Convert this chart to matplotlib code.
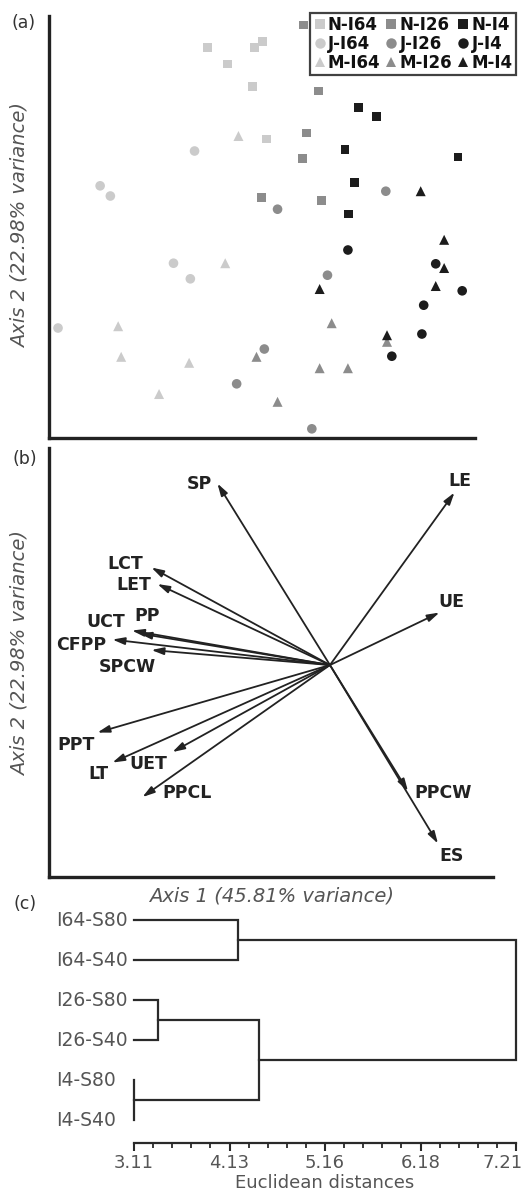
import matplotlib
matplotlib.use("Agg")
import matplotlib.pyplot as plt
from matplotlib.lines import Line2D
from matplotlib.transforms import blended_transform_factory, ScaledTranslation
import numpy as np

plt.rcParams['font.family'] = ['DejaVu Sans']

# ---------------- Panel (a): PCA scores ----------------
group_names = ["N-I64", "N-I26", "N-I4", "J-I64", "J-I26", "J-I4", "M-I64", "M-I26", "M-I4"]
axis1_scores = {
    "N-I64": [-0.87, -0.08, 0.05, -0.53, -0.12, 0.12],
    "N-I26": [0.73, 0.98, 0.78, 0.72, 0.03, 1.03],
    "N-I4":  [1.65, 1.95, 1.42, 3.30, 1.58, 1.48],
    "J-I64": [-1.08, -2.65, -2.48, -1.43, -1.15, -3.35],
    "J-I26": [2.10, 0.30, 1.13, 0.08, -0.38, 0.87],
    "J-I4":  [1.47, 2.93, 3.37, 2.73, 2.70, 2.20],
    "M-I64": [-0.35, -0.57, -2.35, -2.30, -1.17, -1.67],
    "M-I26": [1.20, 2.12, -0.05, 1.00, 1.47, 0.30],
    "M-I4":  [2.68, 3.07, 3.07, 1.00, 2.93, 2.12],
}
axis2_scores = {
    "N-I64": [3.37, 3.37, 3.47, 3.10, 2.72, 1.85],
    "N-I26": [3.75, 2.65, 1.95, 1.53, 0.87, 0.83],
    "N-I4":  [2.38, 2.22, 1.68, 1.55, 1.13, 0.60],
    "J-I64": [1.65, 1.07, 0.90, -0.22, -0.48, -1.30],
    "J-I26": [0.98, 0.68, -0.42, -1.65, -2.23, -2.98],
    "J-I4":  [0.00, -0.23, -0.68, -0.92, -1.40, -1.77],
    "M-I64": [1.90, -0.22, -1.27, -1.78, -1.88, -2.40],
    "M-I26": [-1.22, -1.53, -1.78, -1.97, -1.97, -2.53],
    "M-I4":  [0.98, 0.17, -0.30, -0.65, -0.60, -1.42],
}

# ---------------- Panel (b): loadings ----------------
var_names = ["SP", "LE", "LCT", "LET", "UE", "UCT", "PP", "CFPP", "SPCW",
             "PPT", "LT", "UET", "PPCL", "PPCW", "ES"]
load_axis1 = [-0.75, 0.83, -1.19, -1.15, 0.73, -1.32, -1.27, -1.45, -1.19,
              -1.55, -1.45, -1.05, -1.25, 0.52, 0.72]
load_axis2 = [1.21, 1.15, 0.65, 0.54, 0.35, 0.23, 0.21, 0.17, 0.10,
              -0.45, -0.65, -0.58, -0.88, -0.84, -1.19]

# ---------------- Panel (c): dendrogram ----------------
leaf_labels = ["I64-S80", "I64-S40", "I26-S80", "I26-S40", "I4-S80", "I4-S40"]
merge_pairs = [(0, 1), (2, 3), (4, 5), (7, 8), (6, 9)]   # index >= 6 refers to earlier merge
merge_heights = [4.23, 3.37, 3.11, 4.45, 7.21]
dist_ticks = [3.11, 4.135, 5.16, 6.185, 7.21]
dist_tick_labels = ["3.11", "4.13", "5.16", "6.18", "7.21"]

# ---------------- styling ----------------
W, H = 526, 1193
fig = plt.figure(figsize=(W / 100, H / 100), dpi=100)

def fbox(l, t, r, b):
    return [l / W, 1 - b / H, (r - l) / W, (b - t) / H]

spine_col = "#222222"
txt_grey = "#555555"
shade = {"64": "#cbcbcb", "26": "#8c8c8c", "I4": "#1c1c1c"}
marker_of = {"N": "s", "J": "o", "M": "^"}
size_of = {"s": 40, "o": 48, "^": 52}

def colour(g):
    if g.endswith("I64"):
        return shade["64"]
    if g.endswith("I26"):
        return shade["26"]
    return shade["I4"]

# ----- (a)
axa = fig.add_axes(fbox(49, 16, 475, 438))
order = ["N-I64", "J-I64", "M-I64", "N-I26", "J-I26", "M-I26", "N-I4", "J-I4", "M-I4"]
for g in order:
    m = marker_of[g[0]]
    axa.scatter(axis1_scores[g], axis2_scores[g], marker=m, s=size_of[m],
                color=colour(g), edgecolors="none", zorder=3)
axa.set_xlim(-3.5, 3.583)
axa.set_ylim(-3.133, 3.9)
for sp in ["top", "right"]:
    axa.spines[sp].set_visible(False)
for sp in ["left", "bottom"]:
    axa.spines[sp].set_linewidth(2.4)
    axa.spines[sp].set_color(spine_col)
axa.set_xticks([])
axa.set_yticks([])

handles, labels = [], []
for g in order:
    m = marker_of[g[0]]
    handles.append(Line2D([], [], linestyle="none", marker=m, markersize=7.5 if m != "s" else 7,
                          color=colour(g), markeredgewidth=0))
    labels.append(g)
leg = fig.legend(handles, labels, ncol=3, loc="upper right",
                 bbox_to_anchor=(516 / W, 1 - 13 / H), bbox_transform=fig.transFigure,
                 prop={"weight": "bold", "size": 12}, handlelength=0.7,
                 handletextpad=0.15, columnspacing=0.3, borderpad=0.2,
                 labelspacing=0.05, borderaxespad=0, fancybox=False, frameon=True)
leg.get_frame().set_edgecolor("#111111")
leg.get_frame().set_linewidth(1.6)
for t in leg.get_texts():
    t.set_color("#111111")

# ----- (b)
axb = fig.add_axes(fbox(49, 448, 493, 877))
axb.set_xlim(-1.873, 1.087)
axb.set_ylim(-1.413, 1.447)
label_offsets_px = {
    "SP": (-18, 0), "LE": (5, -12), "LCT": (-26, -4), "LET": (-24, 1),
    "UE": (12, -11), "UCT": (-26, -9), "PP": (8, -18), "CFPP": (-31, 5),
    "SPCW": (-24, 17), "PPT": (-21, 12), "LT": (-14, 11), "UET": (-24, 12),
    "PPCL": (45, -4), "PPCW": (35, 2), "ES": (14, 12),
}
for name, lx, ly in zip(var_names, load_axis1, load_axis2):
    axb.annotate("", xy=(lx, ly), xytext=(0, 0),
                 arrowprops=dict(arrowstyle="-|>,head_length=0.6,head_width=0.18",
                                 color=spine_col, lw=1.3, shrinkA=0, shrinkB=0,
                                 mutation_scale=12))
    dx, dy = label_offsets_px[name]
    axb.annotate(name, xy=(lx, ly), xytext=(dx, -dy), textcoords="offset pixels",
                 ha="center", va="center", fontsize=12.5, fontweight="bold",
                 color="#222222")
for sp in ["top", "right"]:
    axb.spines[sp].set_visible(False)
for sp in ["left", "bottom"]:
    axb.spines[sp].set_linewidth(2.4)
    axb.spines[sp].set_color(spine_col)
axb.set_xticks([])
axb.set_yticks([])

# axis labels
for yc in [225, 653]:
    fig.text(20 / W, 1 - yc / H, "Axis 2 (22.98% variance)", rotation=90,
             ha="center", va="center", fontsize=14, style="italic", color=txt_grey)
fig.text(272 / W, 1 - 896 / H, "Axis 1 (45.81% variance)", ha="center", va="center",
         fontsize=14, style="italic", color=txt_grey)

# panel letters
for lab, (xc, yc) in zip(["(a)", "(b)", "(c)"], [(24, 23), (25, 459), (25, 904)]):
    fig.text(xc / W, 1 - yc / H, lab, ha="center", va="center", fontsize=12.5,
             color="#333333")

# ----- (c)
axc = fig.add_axes(fbox(134, 910, 516, 1143))
axc.set_xlim(dist_ticks[0], dist_ticks[-1])
axc.set_ylim(5.575, -0.25)
n = len(leaf_labels)
node_x = {i: dist_ticks[0] for i in range(n)}
node_y = {i: float(i) for i in range(n)}
dcol = "#2a2a2a"
for k, ((a, b), h) in enumerate(zip(merge_pairs, merge_heights)):
    xa, ya = node_x[a], node_y[a]
    xb, yb = node_x[b], node_y[b]
    axc.plot([xa, h, h, xb], [ya, ya, yb, yb], color=dcol, lw=1.6, clip_on=False,
             solid_joinstyle="miter")
    node_x[n + k] = h
    node_y[n + k] = (ya + yb) / 2
tr = blended_transform_factory(fig.transFigure, axc.transData)
for i, lab in enumerate(leaf_labels):
    axc.text(56 / W, i, lab, transform=tr, ha="left", va="center",
             fontsize=13.5, color=txt_grey)
for sp in ["top", "right", "left"]:
    axc.spines[sp].set_visible(False)
axc.spines["bottom"].set_linewidth(1.6)
axc.spines["bottom"].set_color(dcol)
axc.set_yticks([])
axc.set_xticks(dist_ticks)
axc.set_xticklabels(dist_tick_labels)
minor = []
for a, b in zip(dist_ticks[:-1], dist_ticks[1:]):
    minor += list(np.linspace(a, b, 6)[1:-1])
axc.set_xticks(minor, minor=True)
axc.tick_params(axis="x", which="major", length=6, width=1.5, color=dcol,
                labelsize=13, labelcolor=txt_grey, pad=2)
axc.tick_params(axis="x", which="minor", length=3.5, width=1.3, color=dcol)
last = axc.get_xticklabels()[-1]
last.set_transform(last.get_transform() + ScaledTranslation(-13 / 100, 0, fig.dpi_scale_trans))
fig.text(325 / W, 1 - 1183 / H, "Euclidean distances", ha="center", va="center",
         fontsize=13, color=txt_grey)

fig.savefig("out.png", dpi=100)
